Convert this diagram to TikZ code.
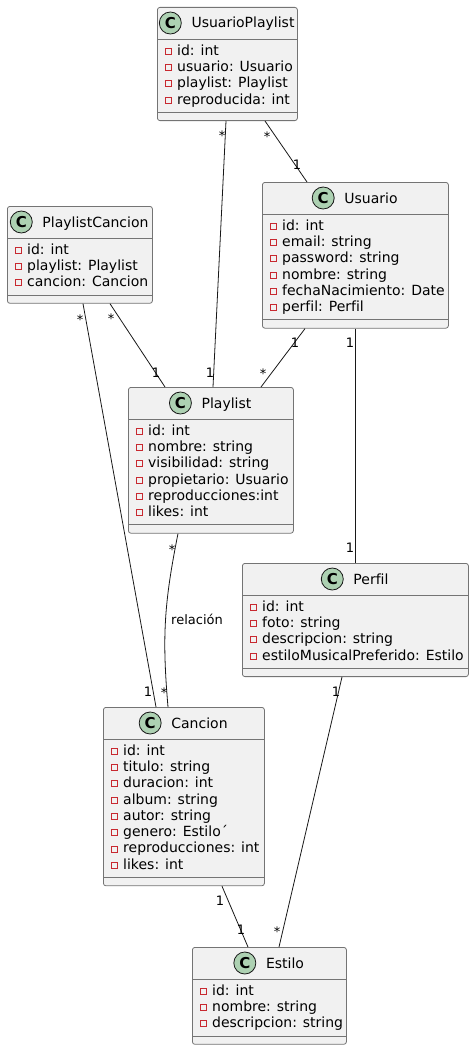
\documentclass[tikz,border=0pt]{standalone}
\usepackage{fontspec}
\setmainfont{DejaVu Sans}[Ligatures=NoCommon]
\usetikzlibrary{positioning,calc}
\definecolor{umlfill}{HTML}{F1F1F1}
\definecolor{umlline}{HTML}{181818}
\definecolor{umlgreen}{HTML}{ADD1B2}
\definecolor{umlred}{HTML}{C82930}

% class box: #1 name, #2 left, #3 top, #4 width, #5 title, #6 attributes
\newcommand{\umlclass}[6]{%
 \foreach \a [count=\i] in {#6} {\xdef\nattr{\i}}
 \begin{scope}[shift={(#2,#3)}]
 \node[classbox,anchor=north west,minimum width=#4pt,minimum height={48pt+16.3pt*\nattr}] (#1) at (0,0) {};
 \node[title,anchor=base] (#1-title) at (#4/2+16,21) {#5};
 \node[badge] (#1-badge) at ([xshift=-21pt,yshift=5pt]#1-title.base west) {C};
 \draw[sep] (0,32) -- (#4,32);
 \draw[sep] (0,{40+16.3*\nattr}) -- (#4,{40+16.3*\nattr});
 \foreach \a [count=\i] in {#6} {
  \node[privmark] (#1-m\i) at (11,{35+16.3*(\i-0.5)+1}) {};
  \node[attr,anchor=base west] (#1-a\i) at (20,{40+16.3*(\i-0.5)}) {\a};
 }
 \end{scope}
}

\begin{document}
\begin{tikzpicture}[x=1pt,y=-1pt,
 every node/.style={font=\fontsize{14}{16}\selectfont},
 classbox/.style={draw=umlline!60,line width=.8pt,fill=umlfill,rounded corners=2.5pt,inner sep=0pt},
 sep/.style={draw=umlline!60,line width=.8pt},
 title/.style={inner sep=0pt},
 badge/.style={circle,draw=umlline,line width=.8pt,fill=umlgreen,minimum size=22pt,inner sep=0pt,font=\fontsize{15}{15}\selectfont\bfseries},
 privmark/.style={rectangle,draw=umlred,line width=.8pt,minimum size=6pt,inner sep=0pt},
 attr/.style={inner sep=0pt},
 assoc/.style={draw=umlline,line width=.8pt},
 mult/.style={inner sep=0pt,text height=9.5pt,text depth=0pt,font=\fontsize{13}{13}\selectfont}]

\useasboundingbox (0,0) rectangle (474,1049);

\umlclass{upl}{157}{7}{140}{UsuarioPlaylist}{id: int,usuario: Usuario,playlist: Playlist,reproducida: int}
\umlclass{plc}{7}{206}{145}{PlaylistCancion}{id: int,playlist: Playlist,cancion: Cancion}
\umlclass{usu}{262}{182}{186}{Usuario}{id: int,email: string,password: string,nombre: string,fechaNacimiento: Date,perfil: Perfil}
\umlclass{pl}{128}{387}{165}{Playlist}{id: int,nombre: string,visibilidad: string,propietario: Usuario,reproducciones:int,likes: int}
\umlclass{per}{242}{563}{226}{Perfil}{id: int,foto: string,descripcion: string,estiloMusicalPreferido: Estilo}
\umlclass{can}{103}{707}{161}{Cancion}{id: int,titulo: string,duracion: int,album: string,autor: string,genero: Estilo´,reproducciones: int,likes: int}
\umlclass{est}{192}{947}{154}{Estilo}{id: int,nombre: string,descripcion: string}

% associations
\draw[assoc] ([xshift=69pt]upl.south west) -- ([xshift=85pt]pl.north west);
\draw[assoc] ([xshift=108pt]upl.south west) -- ([xshift=45pt]usu.north west);
\draw[assoc] ([xshift=103pt]plc.south west) -- ([xshift=37pt]pl.north west);
\draw[assoc] ([xshift=76pt]plc.south west) -- ([xshift=53pt]can.north west);
\draw[assoc] ([xshift=43pt]usu.south west) -- ([xshift=133pt]pl.north west);
\draw[assoc] ([xshift=93pt]usu.south west) -- ([xshift=113pt]per.north west);
\draw[assoc] ([xshift=50pt]pl.south west) .. controls +(-14,70) and +(-6,-70) .. ([xshift=65pt]can.north west);
\draw[assoc] ([xshift=100pt]per.south west) -- ([xshift=87pt]est.north west);
\draw[assoc] ([xshift=119pt]can.south west) -- ([xshift=56pt]est.north west);

% multiplicities
\node[mult] (upl-pl-a) at (222,136) {*};
\node[mult] (upl-pl-b) at (210,373) {1};
\node[mult] (upl-usu-a) at (267,137) {*};
\node[mult] (upl-usu-b) at (297,165) {1};
\node[mult] (plc-pl-a) at (111,319) {*};
\node[mult] (plc-pl-b) at (156,373) {1};
\node[mult] (plc-can-a) at (80,320) {*};
\node[mult] (plc-can-b) at (148,692) {1};
\node[mult] (usu-pl-a) at (295,343) {1};
\node[mult] (usu-pl-b) at (263,374) {*};
\node[mult] (usu-per-a) at (350,343) {1};
\node[mult] (usu-per-b) at (350,548) {1};
\node[mult] (pl-can-a) at (172,550) {*};
\node[mult] (pl-can-b) at (164,693) {*};
\node[mult,text height=10pt,text depth=3pt] (pl-can-l) at (197,621) {relación};
\node[mult] (per-est-a) at (336,692) {1};
\node[mult] (per-est-b) at (277,932) {*};
\node[mult] (can-est-a) at (220,901) {1};
\node[mult] (can-est-b) at (241,930) {1};
\end{tikzpicture}
\end{document}
